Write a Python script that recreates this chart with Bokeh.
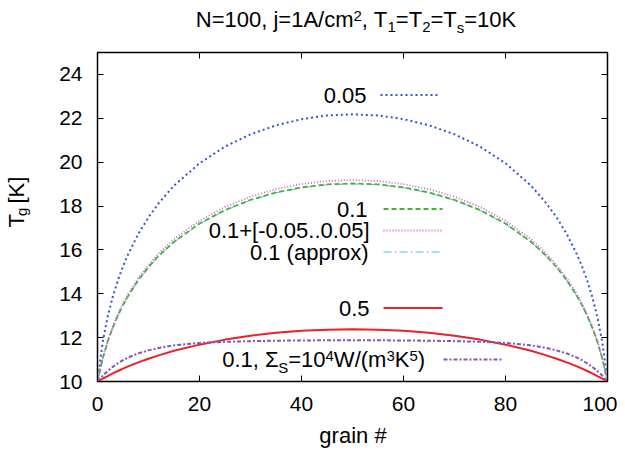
import math
from bokeh.plotting import figure
from bokeh.layouts import column, row
from bokeh.models import Range1d, FixedTicker, LinearAxis, Label, Arrow
from bokeh.core.properties import value
from bokeh.embed import file_html
from bokeh.resources import INLINE

# ---- data ----
grain = [0, 1, 2, 3, 4, 5, 6, 8, 10, 12, 15, 20, 25, 30, 35, 40, 45, 50,
         55, 60, 65, 70, 75, 80, 85, 88, 90, 92, 94, 95, 96, 97, 98, 99, 100]

t_005 = [10.00, 11.77, 12.96, 13.87, 14.62, 15.25, 15.80, 16.73, 17.49, 18.13, 18.93, 19.95, 20.71, 21.27, 21.68, 21.96, 22.13, 22.18,
         22.13, 21.96, 21.68, 21.27, 20.71, 19.95, 18.93, 18.13, 17.49, 16.73, 15.80, 15.25, 14.62, 13.87, 12.96, 11.77, 10.00]
t_01 = [10.00, 11.03, 11.82, 12.46, 13.01, 13.48, 13.90, 14.62, 15.22, 15.73, 16.37, 17.20, 17.82, 18.28, 18.62, 18.85, 18.99, 19.03,
        18.99, 18.85, 18.62, 18.28, 17.82, 17.20, 16.37, 15.73, 15.22, 14.62, 13.90, 13.48, 13.01, 12.46, 11.82, 11.03, 10.00]
t_01_rand = [10.00, 11.06, 11.87, 12.52, 13.08, 13.56, 13.99, 14.72, 15.32, 15.84, 16.49, 17.33, 17.96, 18.43, 18.77, 19.00, 19.14, 19.18,
             19.14, 19.00, 18.77, 18.43, 17.96, 17.33, 16.49, 15.84, 15.32, 14.72, 13.99, 13.56, 13.08, 12.52, 11.87, 11.06, 10.00]
t_01_approx = [10.00, 11.01, 11.80, 12.44, 12.99, 13.46, 13.88, 14.60, 15.20, 15.71, 16.35, 17.18, 17.80, 18.26, 18.60, 18.83, 18.97, 19.01,
               18.97, 18.83, 18.60, 18.26, 17.80, 17.18, 16.35, 15.71, 15.20, 14.60, 13.88, 13.46, 12.99, 12.44, 11.80, 11.01, 10.00]
t_05 = [10.00, 10.13, 10.25, 10.37, 10.48, 10.59, 10.69, 10.87, 11.04, 11.19, 11.40, 11.68, 11.91, 12.09, 12.22, 12.31, 12.36, 12.38,
        12.36, 12.31, 12.22, 12.09, 11.91, 11.68, 11.40, 11.19, 11.04, 10.87, 10.69, 10.59, 10.48, 10.37, 10.25, 10.13, 10.00]
t_01_sigma = [10.00, 10.26, 10.48, 10.67, 10.83, 10.97, 11.09, 11.28, 11.42, 11.53, 11.65, 11.76, 11.81, 11.84, 11.86, 11.87, 11.88, 11.88,
              11.88, 11.87, 11.86, 11.84, 11.81, 11.76, 11.65, 11.53, 11.42, 11.28, 11.09, 10.97, 10.83, 10.67, 10.48, 10.26, 10.00]

x_ticks = [0, 20, 40, 60, 80, 100]
y_ticks = [10, 12, 14, 16, 18, 20, 22, 24]

# rich texts: (text, role) with role "n" normal, "sub", "sup"
title_parts = [("N=100, j=1A/cm", "n"), ("2", "sup"), (", T", "n"), ("1", "sub"), ("=T", "n"),
               ("2", "sub"), ("=T", "n"), ("s", "sub"), ("=10K", "n")]
y_label_parts = [("T", "n"), ("g", "sub"), (" [K]", "n")]
x_label = "grain #"
key_labels = ["0.05", "0.1", "0.1+[-0.05..0.05]", "0.1 (approx)", "0.5"]
sigma_parts = [("0.1, \u03a3", "n"), ("S", "sub"), ("=10", "n"), ("4", "sup"), ("W/(m", "n"),
               ("3", "sup"), ("K", "n"), ("5", "sup"), (")", "n")]

FONT = "Liberation Sans"
BIG = 22
SMALL = 15
MID = 0.3465  # middle of the em box above the baseline, in em

# Arial / Liberation Sans advance widths (per 1000 em)
AW = {'N': 722, '=': 584, ',': 278, ' ': 278, 'j': 222, 'A': 667, '/': 278, 'c': 500, 'm': 833,
      'T': 611, 's': 500, 'K': 667, '.': 278, '+': 584, '[': 278, ']': 278, '-': 333, '(': 333,
      ')': 333, 'W': 944, 'S': 667, '\u03a3': 600, 'g': 556, '#': 556}


def tw(s, size):
    return sum(AW.get(ch, 556) for ch in s) * size / 1000.0


def layout_parts(parts):
    """list of (text, offset along, size, offset of the middle line above the main baseline)"""
    out, pos = [], 0.0
    for txt, role in parts:
        size = BIG if role == "n" else SMALL
        shift = 0 if role == "n" else (6.5 if role == "sup" else -5.0)
        lead = len(txt) - len(txt.lstrip(" "))
        pos += tw(" " * lead, size)
        txt = txt.lstrip(" ")
        out.append((txt, pos, size, shift + MID * size))
        pos += tw(txt, size)
    return out, pos


# ---------------- main plot ----------------
BOTTOM = 41
p = figure(frame_width=510, frame_height=329, output_backend="svg", toolbar_location=None,
           x_range=Range1d(0, 100), y_range=Range1d(10, 25),
           min_border_left=52, min_border_right=10, min_border_top=12, min_border_bottom=BOTTOM)
p.grid.visible = False
p.outline_line_color = "black"
p.outline_line_width = 1.5

for ax in (p.xaxis[0], p.yaxis[0]):
    ax.axis_line_color = None
    ax.major_tick_in = 6
    ax.major_tick_out = 0
    ax.minor_tick_line_color = None
    ax.major_tick_line_color = "black"
    ax.major_label_text_font = FONT
    ax.major_label_text_font_size = "21px"
    ax.major_label_text_color = "black"
p.xaxis[0].ticker = FixedTicker(ticks=x_ticks)
p.yaxis[0].ticker = FixedTicker(ticks=y_ticks)
p.xaxis[0].major_label_standoff = 15
p.yaxis[0].major_label_standoff = 15

# mirror ticks on top and right (labels not drawn)
for loc, tk in (("right", y_ticks), ("above", x_ticks)):
    ax = LinearAxis(ticker=FixedTicker(ticks=tk), major_tick_in=6, major_tick_out=0,
                    axis_line_color=None, minor_tick_line_color=None,
                    major_label_text_font_size="1px", major_label_text_color=None,
                    major_label_text_alpha=0, major_label_standoff=0)
    p.add_layout(ax, loc)

styles = {
    "005": dict(line_color="#3355cc", line_width=2, line_dash="2 3"),
    "apx": dict(line_color="#3cc8e6", line_width=1, line_dash="8 3 2 3"),
    "01": dict(line_color="#4daf3a", line_width=1.8, line_dash="5 3"),
    "rnd": dict(line_color="#d060c8", line_width=1.8, line_dash="1 2"),
    "05": dict(line_color="#e8222a", line_width=2),
    "sig": dict(line_color="#8855b0", line_width=2, line_dash="4 2 2 2"),
}

p.line(grain, t_005, **styles["005"])
p.line(grain, t_01_approx, **styles["apx"])
p.line(grain, t_01, **styles["01"])
p.line(grain, t_01_rand, **styles["rnd"])
p.line(grain, t_05, **styles["05"])
p.line(grain, t_01_sigma, **styles["sig"])

# key (positions in page px, converted to frame-relative screen units)
FB, FL = 381, 97


def key_sample(style, x0, x1, yc):
    p.add_layout(Arrow(start=None, end=None, x_start=x0 - FL, x_end=x1 - FL,
                       y_start=FB - yc, y_end=FB - yc, start_units="screen", end_units="screen",
                       **style))


def key_text(text, x, mid, align="right", size=BIG):
    p.add_layout(Label(x=x - FL, y=FB - mid, x_units="screen", y_units="screen", text=text,
                       text_font=FONT, text_font_size=f"{size}px", text_align=align,
                       text_baseline="middle", text_color="black"))


key_rows = [  # (label index, text right edge, baseline, style, sample x0, x1, sample y)
    (0, 366, 102.7, "005", 380, 437, 94.5),
    (1, 367, 216.5, "01", 383, 442, 208.5),
    (2, 369, 238.0, "rnd", 383, 442, 230.0),
    (3, 368, 259.5, "apx", 383, 442, 251.5),
    (4, 369, 315.5, "05", 383, 442, 307.5),
]
for i, xr, base, st, sx0, sx1, sy in key_rows:
    key_text(key_labels[i], xr, base - MID * BIG)
    key_sample(styles[st], sx0, sx1, sy)

parts, _ = layout_parts(sigma_parts)
for txt, off, size, up in parts:
    key_text(txt, 221.7 + off, 367 - up, align="left", size=size)
key_sample(styles["sig"], 443, 502, 359)

# ---------------- title strip ----------------
TW, TH = 617, 40
ft = figure(width=TW, height=TH, x_range=Range1d(0, TW), y_range=Range1d(0, TH), min_border=0,
            x_axis_type=None, y_axis_type=None, toolbar_location=None, output_backend="svg",
            outline_line_color=None)
ft.grid.visible = False
parts, total = layout_parts(title_parts)
x0 = 355.5 - total / 2
base_abs = 26.7
for txt, off, size, up in parts:
    ft.text(x=[x0 + off], y=[TH - (base_abs - up)], text=[txt], text_font=value(FONT),
            text_font_size=value(f"{size}px"), text_align="left", text_baseline="middle",
            text_color="black")

# ---------------- y label strip ----------------
PH = 12 + 329 + BOTTOM
YW = 45
fy = figure(width=YW, height=PH, x_range=Range1d(0, YW), y_range=Range1d(0, PH), min_border=0,
            x_axis_type=None, y_axis_type=None, toolbar_location=None, output_backend="svg",
            outline_line_color=None)
fy.grid.visible = False
parts, total = layout_parts(y_label_parts)
y0 = (TH + PH) - 243.3
ybase = 23.3
for txt, off, size, up in parts:
    up_y = up if size == BIG else MID * size - 2.5
    fy.text(x=[ybase - up_y], y=[y0 + off], text=[txt], angle=math.pi / 2,
            text_font=value(FONT), text_font_size=value(f"{size}px"), text_align="left",
            text_baseline="middle", text_color="black")

# ---------------- x label strip ----------------
XH = 450 - TH - PH
fx = figure(width=TW, height=XH, x_range=Range1d(0, TW), y_range=Range1d(0, XH), min_border=0,
            x_axis_type=None, y_axis_type=None, toolbar_location=None, output_backend="svg",
            outline_line_color=None)
fx.grid.visible = False
fx.text(x=[352.5], y=[450 - (443 - MID * BIG)], text=[x_label], text_font=value(FONT),
        text_font_size=value(f"{BIG}px"), text_align="center", text_baseline="middle",
        text_color="black")

page = column(ft, row(fy, p), fx)
open("out.html", "w").write(file_html(page, INLINE))
